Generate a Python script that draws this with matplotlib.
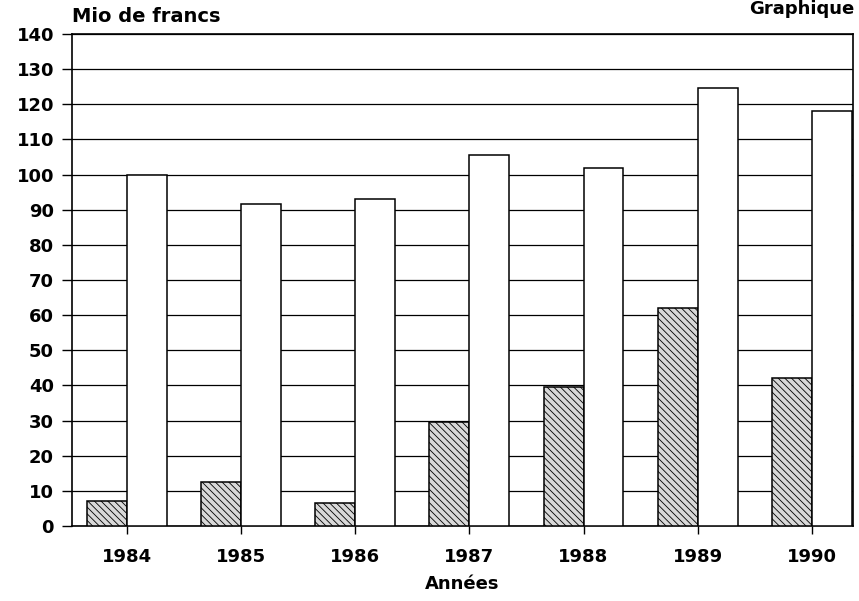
import numpy as np
import matplotlib.pyplot as plt

years = ["1984", "1985", "1986", "1987", "1988", "1989", "1990"]
stippled = [7, 12.5, 6.5, 29.5, 39.5, 62, 42]
white = [100, 91.5, 93, 105.5, 102, 124.5, 118]

plt.rcParams["font.family"] = "DejaVu Sans"
plt.rcParams["font.weight"] = "bold"
plt.rcParams["hatch.linewidth"] = 0.6
plt.rcParams["hatch.color"] = "#444444"

fig = plt.figure(figsize=(8.59, 6.01), dpi=100)
ax = fig.add_axes([72 / 859, 1 - 526 / 601, (853 - 72) / 859, (526 - 34) / 601])

x = np.arange(len(years))
w = 0.35
ax.bar(x - w / 2, stippled, width=w, color="#d8d8d8", edgecolor="black",
       linewidth=1.1, hatch="\\\\\\\\\\", zorder=3)
ax.bar(x + w / 2, white, width=w, color="white", edgecolor="black",
       linewidth=1.1, zorder=3)

ax.set_ylim(0, 140)
ax.set_xlim(-0.48, 6.36)
ax.set_yticks(range(0, 141, 10))
ax.set_xticks(x)
ax.set_xticklabels(years)
ax.grid(axis="y", color="black", linewidth=0.9, zorder=0)
for s in ax.spines.values():
    s.set_linewidth(1.2)
ax.tick_params(axis="y", direction="out", length=7, width=1, pad=6, labelsize=13)
ax.tick_params(axis="x", direction="out", length=6, width=1, pad=10, labelsize=13)

ax.set_xlabel("Années", fontsize=13, fontweight="bold", labelpad=6)
fig.text(72 / 859, 1 - 16 / 601, "Mio de francs", fontsize=14, fontweight="bold",
         ha="left", va="center")
fig.text(0.995, 1.0, "Graphique", fontsize=13, fontweight="bold",
         ha="right", va="top")

fig.savefig("out.png", dpi=100)
